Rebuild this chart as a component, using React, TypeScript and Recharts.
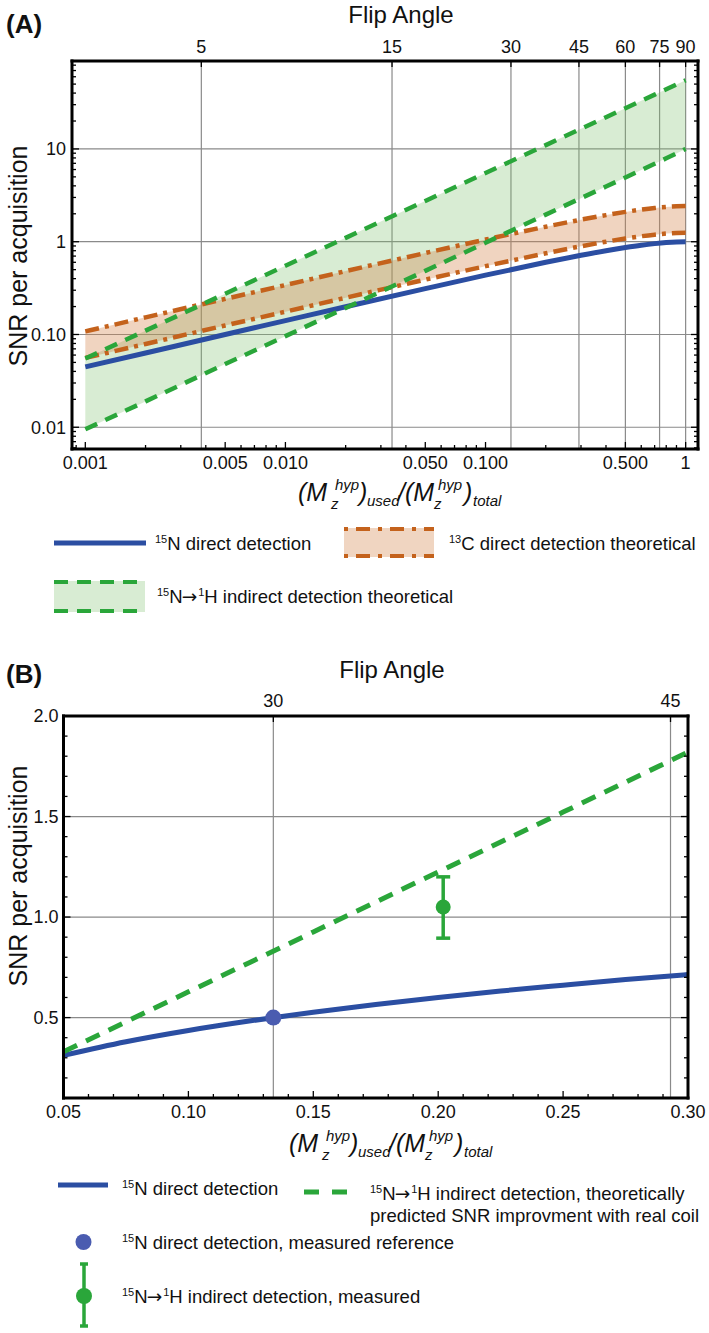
import React from 'react'
import {
  ComposedChart, Line, Area, Scatter, ErrorBar, XAxis, YAxis, CartesianGrid,
} from 'recharts'

// ---------- panel A (log-log) ----------
const fracA = [0.001, 0.002, 0.005, 0.01, 0.02, 0.05, 0.1, 0.2, 0.3, 0.4, 0.5, 0.6, 0.7, 0.8, 0.9, 1.0]
const n15DirectA = [0.0447, 0.0632, 0.0999, 0.141, 0.199, 0.312, 0.436, 0.6, 0.714, 0.8, 0.866, 0.917, 0.954, 0.98, 0.995, 1.0]
const c13HighA = [0.108, 0.153, 0.242, 0.341, 0.482, 0.755, 1.055, 1.452, 1.728, 1.936, 2.096, 2.218, 2.308, 2.371, 2.408, 2.42]
const c13LowA = [0.0559, 0.079, 0.125, 0.176, 0.249, 0.39, 0.545, 0.75, 0.893, 1.0, 1.083, 1.146, 1.192, 1.225, 1.244, 1.25]
const hLowA = [0.0095, 0.019, 0.048, 0.096, 0.193, 0.485, 0.975, 1.96, 2.95, 3.93, 4.93, 5.92, 6.92, 7.92, 8.95, 10]
const hHighA = [0.055, 0.11, 0.275, 0.55, 1.1, 2.75, 5.5, 11, 16.5, 22, 27.5, 33, 38.5, 44, 49.5, 55]

const xMajorA = [0.001, 0.005, 0.01, 0.05, 0.1, 0.5, 1]
const xMajorLabelsA = ['0.001', '0.005', '0.010', '0.050', '0.100', '0.500', '1']
const xMinorA = [0.0009, 0.002, 0.003, 0.004, 0.006, 0.007, 0.008, 0.009, 0.02, 0.03, 0.04, 0.06, 0.07, 0.08, 0.09,
  0.2, 0.3, 0.4, 0.6, 0.7, 0.8, 0.9]
const yMajorA = [0.01, 0.1, 1, 10]
const yMajorLabelsA = ['0.01', '0.10', '1', '10']
const yMinorA = [0.006, 0.007, 0.008, 0.009, 0.02, 0.03, 0.04, 0.05, 0.06, 0.07, 0.08, 0.09,
  0.2, 0.3, 0.4, 0.5, 0.6, 0.7, 0.8, 0.9, 2, 3, 4, 5, 6, 7, 8, 9, 20, 30, 40, 50, 60, 70, 80]
const flipFracA = [0.0038, 0.0341, 0.134, 0.293, 0.5, 0.741, 1]
const flipLabelsA = ['5', '15', '30', '45', '60', '75', '90']

// ---------- panel B (linear) ----------
const fracB = [0.05, 0.075, 0.1, 0.125, 0.15, 0.175, 0.2, 0.225, 0.25, 0.275, 0.3]
const n15DirectB = [0.312, 0.38, 0.436, 0.484, 0.527, 0.565, 0.6, 0.632, 0.661, 0.689, 0.714]
const hIndirectB = [0.33, 0.479, 0.628, 0.777, 0.926, 1.075, 1.224, 1.373, 1.522, 1.671, 1.82]
const n15Measured = [{ f: 0.134, v: 0.5 }]
const hMeasured = [{ f: 0.202, v: 1.05, err: [0.155, 0.15] }]

const xMajorB = [0.05, 0.1, 0.15, 0.2, 0.25, 0.3]
const xMajorLabelsB = ['0.05', '0.10', '0.15', '0.20', '0.25', '0.30']
const xMinorB = [0.06, 0.07, 0.08, 0.09, 0.11, 0.12, 0.13, 0.14, 0.16, 0.17, 0.18, 0.19,
  0.21, 0.22, 0.23, 0.24, 0.26, 0.27, 0.28, 0.29]
const yMajorB = [0.5, 1.0, 1.5, 2.0]
const yMajorLabelsB = ['0.5', '1.0', '1.5', '2.0']
const yMinorB = [0.1, 0.2, 0.3, 0.4, 0.6, 0.7, 0.8, 0.9, 1.1, 1.2, 1.3, 1.4, 1.6, 1.7, 1.8, 1.9]
const flipFracB = [0.134, 0.293]
const flipLabelsB = ['30', '45']

const dataA = fracA.map((f, i) => ({
  f,
  n15: n15DirectA[i],
  c13Hi: c13HighA[i],
  c13Lo: c13LowA[i],
  c13Band: [c13LowA[i], c13HighA[i]],
  hLo: hLowA[i],
  hHi: hHighA[i],
  hBand: [hLowA[i], hHighA[i]],
}))

const dataB = fracB.map((f, i) => ({ f, n15: n15DirectB[i], h: hIndirectB[i] }))

const FONT = "'Liberation Sans', Arial, Helvetica, sans-serif"
const BLUE = '#2b4ea2'
const GREEN = '#2aa63a'
const ORANGE = '#c4621c'
const DOT_BLUE = '#4a5cb0'
const GRID = '#8a8a8a'
const FRAME = { stroke: '#000', strokeWidth: 3, strokeLinecap: 'square' as const }

const near = (a: number, b: number) => Math.abs(a - b) <= 1e-6 * Math.max(Math.abs(a), Math.abs(b))

// inward Mathematica-style frame ticks, label optional
function makeTick(side: 'bottom' | 'top' | 'left' | 'right', majors: number[], labels: string[] | null, offset: number, majorLen = 7, minorLen = 4) {
  return (props: any) => {
    const { x, y, payload } = props
    const v = payload.value
    const idx = majors.findIndex(m => near(m, v))
    const len = idx >= 0 ? majorLen : minorLen
    let line
    let label = null
    const text = idx >= 0 && labels ? labels[idx] : null
    if (side === 'bottom') {
      line = <line x1={x} y1={y} x2={x} y2={y - len} stroke="#000" strokeWidth={1.3} />
      if (text) label = <text x={x} y={y + offset} textAnchor="middle" fontSize={18} fontFamily={FONT} fill="#111">{text}</text>
    } else if (side === 'top') {
      line = <line x1={x} y1={y} x2={x} y2={y + len} stroke="#000" strokeWidth={1.3} />
      if (text) label = <text x={x} y={y - offset} textAnchor="middle" fontSize={18} fontFamily={FONT} fill="#111">{text}</text>
    } else if (side === 'left') {
      line = <line x1={x} y1={y} x2={x + len} y2={y} stroke="#000" strokeWidth={1.3} />
      if (text) label = <text x={x - offset} y={y} dy="0.35em" textAnchor="end" fontSize={18} fontFamily={FONT} fill="#111">{text}</text>
    } else {
      line = <line x1={x} y1={y} x2={x - len} y2={y} stroke="#000" strokeWidth={1.3} />
    }
    return <g>{line}{label}</g>
  }
}

function Sup({ t }: { t: string }) {
  return <tspan fontSize={11} dy={-7}>{t}</tspan>
}

// "15N→1H" followed by the rest of the label
function NtoH({ rest }: { rest: string }) {
  return (
    <>
      <Sup t="15" /><tspan dy={7}>N</tspan><tspan dx={-1} fontSize={18.5} fontFamily="'DejaVu Sans', sans-serif">→</tspan>
      <tspan dx={1} fontSize={11} dy={-7}>1</tspan><tspan dy={7}>{rest}</tspan>
    </>
  )
}

function MzTitle({ x, y }: { x: number; y: number }) {
  const big = { fontSize: 25, fontStyle: 'italic' as const, fontFamily: FONT, fill: '#111' }
  const small = { fontSize: 15, fontStyle: 'italic' as const, fontFamily: FONT, fill: '#111' }
  return (
    <g transform={`translate(${x},${y})`}>
      <text x={0} y={0} {...big}>(M</text>
      <text x={37} y={-11} {...small}>hyp</text>
      <text x={33} y={8} {...small}>z</text>
      <text x={61} y={0} {...big}>)</text>
      <text x={69} y={5} {...small}>used</text>
      <text x={100} y={0} {...big}>/(M</text>
      <text x={140} y={-11} {...small}>hyp</text>
      <text x={136} y={8} {...small}>z</text>
      <text x={166} y={0} {...big}>)</text>
      <text x={175} y={5} {...small}>total</text>
    </g>
  )
}

function Overlay() {
  const lg = { fontSize: 18.5, fontFamily: FONT, fill: '#111' }
  const title = { fontSize: 24, fontFamily: FONT, fill: '#111' }
  return (
    <svg width={709} height={1333} style={{ position: 'absolute', left: 0, top: 0, pointerEvents: 'none' }}>
      {/* panel A */}
      <text x={6} y={33} fontSize={26} fontWeight="bold" fontFamily={FONT} fill="#111">(A)</text>
      <text x={401} y={23} textAnchor="middle" {...title}>Flip Angle</text>
      <text transform="translate(27,256) rotate(-90)" textAnchor="middle" fontSize={25} fontFamily={FONT} fill="#111">SNR per acquisition</text>
      <MzTitle x={298} y={501} />

      <line x1={54} y1={543} x2={146} y2={543} stroke={BLUE} strokeWidth={5} />
      <text x={155} y={549.5} {...lg}><Sup t="15" /><tspan dy={7}>N direct detection</tspan></text>

      <rect x={344} y={528} width={90} height={29} fill="#f0d5c1" />
      <line x1={344} y1={529} x2={434} y2={529} stroke={ORANGE} strokeWidth={4} strokeDasharray="4 8 14 8" />
      <line x1={344} y1={556} x2={434} y2={556} stroke={ORANGE} strokeWidth={4} strokeDasharray="4 8 14 8" />
      <text x={449} y={549.5} {...lg}><Sup t="13" /><tspan dy={7}>C direct detection theoretical</tspan></text>

      <rect x={54} y={581} width={91} height={31} fill="#d8ecd3" />
      <line x1={54} y1={582} x2={145} y2={582} stroke={GREEN} strokeWidth={4} strokeDasharray="14 9" />
      <line x1={54} y1={611} x2={145} y2={611} stroke={GREEN} strokeWidth={4} strokeDasharray="14 9" />
      <text x={157} y={602.5} {...lg}><NtoH rest="H indirect detection theoretical" /></text>

      {/* panel B */}
      <text x={6} y={683} fontSize={26} fontWeight="bold" fontFamily={FONT} fill="#111">(B)</text>
      <text x={392} y={678} textAnchor="middle" {...title}>Flip Angle</text>
      <text transform="translate(27,876) rotate(-90)" textAnchor="middle" fontSize={25} fontFamily={FONT} fill="#111">SNR per acquisition</text>
      <MzTitle x={289} y={1152} />

      <line x1={58} y1={1185} x2={108} y2={1185} stroke={BLUE} strokeWidth={5} />
      <text x={122} y={1194.5} {...lg}><Sup t="15" /><tspan dy={7}>N direct detection</tspan></text>

      <line x1={304} y1={1192} x2={358} y2={1192} stroke={GREEN} strokeWidth={5} strokeDasharray="15 13" />
      <text x={370} y={1199.5} {...lg}><NtoH rest="H indirect detection, theoretically" /></text>
      <text x={370} y={1221.5} {...lg}>predicted SNR improvment with real coil</text>

      <circle cx={83.5} cy={1242} r={8} fill={DOT_BLUE} />
      <text x={122} y={1248.5} {...lg}><Sup t="15" /><tspan dy={7}>N direct detection, measured reference</tspan></text>

      <line x1={84} y1={1264} x2={84} y2={1326} stroke={GREEN} strokeWidth={3.5} />
      <line x1={80} y1={1264} x2={88} y2={1264} stroke={GREEN} strokeWidth={3.5} />
      <line x1={80} y1={1326} x2={88} y2={1326} stroke={GREEN} strokeWidth={3.5} />
      <circle cx={84} cy={1296} r={8} fill={GREEN} />
      <text x={122} y={1302.5} {...lg}><NtoH rest="H indirect detection, measured" /></text>
    </svg>
  )
}

// axes get size 1 (a zero-sized axis is not drawn); margins absorb that pixel.
// the top flip-angle axis carries a hidden copy of a series so it gets a data domain.
function PanelA() {
  const xDomain: [number, number] = [0.000858, 1.153]
  const yDomain: [number, number] = [0.00583, 88.7]
  return (
    <ComposedChart width={709} height={640} data={dataA} margin={{ top: 60, left: 71, right: 10, bottom: 190 }}>
      <CartesianGrid xAxisId="f" yAxisId="snr" stroke={GRID} strokeWidth={1.2}
        verticalValues={flipFracA} horizontalValues={yMajorA} />
      <XAxis xAxisId="f" dataKey="f" type="number" scale="log" domain={xDomain} allowDataOverflow
        ticks={[...xMajorA, ...xMinorA]} interval={0} height={1} tickSize={0} tickMargin={0} tickLine={false}
        axisLine={FRAME} tick={makeTick('bottom', xMajorA, xMajorLabelsA, 19.5)} />
      <XAxis xAxisId="flip" dataKey="f" orientation="top" type="number" scale="log" domain={xDomain} allowDataOverflow
        ticks={flipFracA} interval={0} height={1} tickSize={0} tickMargin={0} tickLine={false}
        axisLine={FRAME} tick={makeTick('top', flipFracA, flipLabelsA, 8, 6, 6)} />
      <YAxis yAxisId="snr" type="number" scale="log" domain={yDomain} allowDataOverflow
        ticks={[...yMajorA, ...yMinorA]} interval={0} width={1} tickSize={0} tickMargin={0} tickLine={false}
        axisLine={FRAME} tick={makeTick('left', yMajorA, yMajorLabelsA, 6)} />
      <YAxis yAxisId="snrR" orientation="right" type="number" scale="log" domain={yDomain} allowDataOverflow
        ticks={[...yMajorA, ...yMinorA]} interval={0} width={1} tickSize={0} tickMargin={0} tickLine={false}
        axisLine={FRAME} tick={makeTick('right', yMajorA, null, 0)} />

      <Area xAxisId="f" yAxisId="snr" dataKey="hBand" type="linear" stroke="none" fill="#7dc06c" fillOpacity={0.3} isAnimationActive={false} />
      <Area xAxisId="f" yAxisId="snr" dataKey="c13Band" type="linear" stroke="none" fill="#d4844b" fillOpacity={0.35} isAnimationActive={false} />
      <Line xAxisId="flip" yAxisId="snrR" dataKey="n15" stroke="none" dot={false} legendType="none" isAnimationActive={false} />
      <Line xAxisId="f" yAxisId="snr" dataKey="c13Hi" type="monotone" stroke={ORANGE} strokeWidth={4.5} strokeDasharray="14 6 4 6" dot={false} isAnimationActive={false} />
      <Line xAxisId="f" yAxisId="snr" dataKey="c13Lo" type="monotone" stroke={ORANGE} strokeWidth={4.5} strokeDasharray="14 6 4 6" dot={false} isAnimationActive={false} />
      <Line xAxisId="f" yAxisId="snr" dataKey="n15" type="monotone" stroke={BLUE} strokeWidth={5} dot={false} isAnimationActive={false} />
      <Line xAxisId="f" yAxisId="snr" dataKey="hHi" type="linear" stroke={GREEN} strokeWidth={4.5} strokeDasharray="13 9" dot={false} isAnimationActive={false} />
      <Line xAxisId="f" yAxisId="snr" dataKey="hLo" type="linear" stroke={GREEN} strokeWidth={4.5} strokeDasharray="13 9" dot={false} isAnimationActive={false} />
    </ComposedChart>
  )
}

function PanelB() {
  const xDomain: [number, number] = [0.05, 0.3]
  const yDomain: [number, number] = [0.1, 2.0]
  return (
    <ComposedChart width={709} height={693} data={dataB} margin={{ top: 75, left: 62.5, right: 20, bottom: 234 }}>
      <CartesianGrid xAxisId="f" yAxisId="snr" stroke={GRID} strokeWidth={1.2}
        verticalValues={flipFracB} horizontalValues={[0.5, 1.0, 1.5]} />
      <XAxis xAxisId="f" dataKey="f" type="number" domain={xDomain} allowDataOverflow
        ticks={[...xMajorB, ...xMinorB]} interval={0} height={1} tickSize={0} tickMargin={0} tickLine={false}
        axisLine={FRAME} tick={makeTick('bottom', xMajorB, xMajorLabelsB, 20)} />
      <XAxis xAxisId="flip" dataKey="f" orientation="top" type="number" domain={xDomain} allowDataOverflow
        ticks={flipFracB} interval={0} height={1} tickSize={0} tickMargin={0} tickLine={false}
        axisLine={FRAME} tick={makeTick('top', flipFracB, flipLabelsB, 9.5, 6, 6)} />
      <YAxis yAxisId="snr" type="number" domain={yDomain} allowDataOverflow
        ticks={[...yMajorB, ...yMinorB]} interval={0} width={1} tickSize={0} tickMargin={0} tickLine={false}
        axisLine={FRAME} tick={makeTick('left', yMajorB, yMajorLabelsB, 5)} />
      <YAxis yAxisId="snrR" orientation="right" type="number" domain={yDomain} allowDataOverflow
        ticks={[...yMajorB, ...yMinorB]} interval={0} width={1} tickSize={0} tickMargin={0} tickLine={false}
        axisLine={FRAME} tick={makeTick('right', yMajorB, null, 0)} />

      <Line xAxisId="flip" yAxisId="snrR" dataKey="n15" stroke="none" dot={false} legendType="none" isAnimationActive={false} />
      <Line xAxisId="f" yAxisId="snr" dataKey="n15" type="monotone" stroke={BLUE} strokeWidth={5} dot={false} isAnimationActive={false} />
      <Line xAxisId="f" yAxisId="snr" dataKey="h" type="linear" stroke={GREEN} strokeWidth={5} strokeDasharray="15 10" dot={false} isAnimationActive={false} />
      <Scatter xAxisId="f" yAxisId="snr" data={n15Measured} dataKey="v" isAnimationActive={false}
        shape={(p: any) => <circle cx={p.cx} cy={p.cy} r={8} fill={DOT_BLUE} />} />
      <Scatter xAxisId="f" yAxisId="snr" data={hMeasured} dataKey="v" isAnimationActive={false}
        shape={(p: any) => <circle cx={p.cx} cy={p.cy} r={7.5} fill={GREEN} />}>
        <ErrorBar dataKey="err" direction="y" width={7} stroke={GREEN} strokeWidth={3.5} />
      </Scatter>
    </ComposedChart>
  )
}

export default function App() {
  return (
    <div style={{ position: 'absolute', left: 0, top: 0, width: 709, height: 1333, background: '#fff', fontFamily: FONT }}>
      <div style={{ position: 'absolute', left: 0, top: 0 }}><PanelA /></div>
      <div style={{ position: 'absolute', left: 0, top: 640 }}><PanelB /></div>
      <Overlay />
    </div>
  )
}
